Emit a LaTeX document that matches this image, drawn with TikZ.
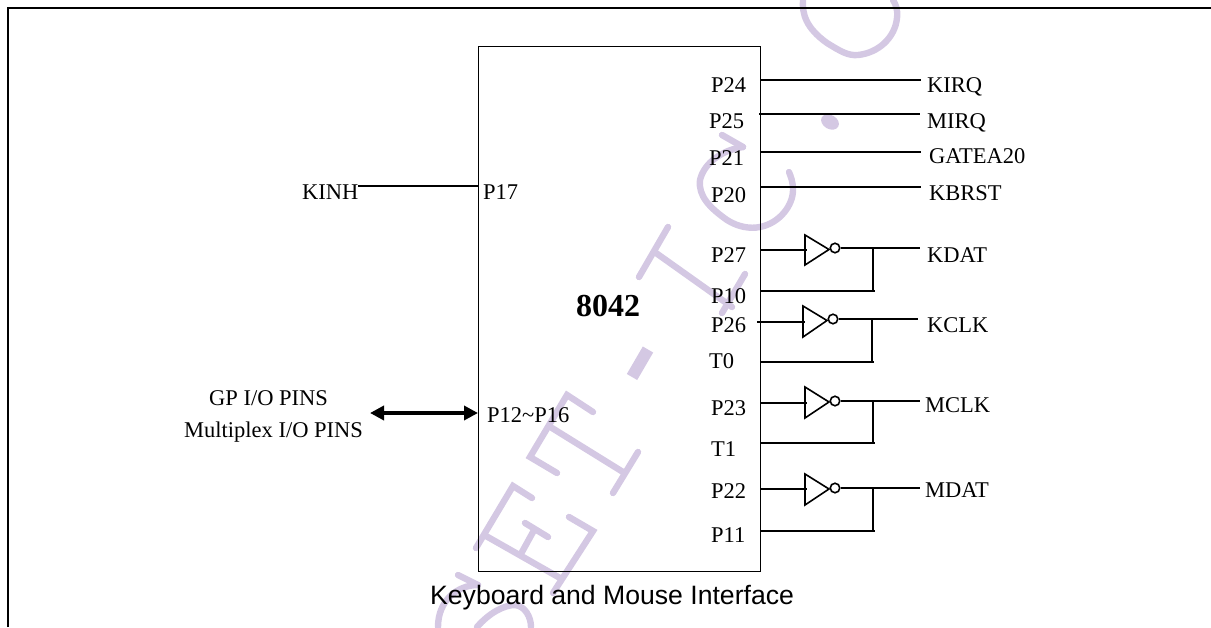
\documentclass[tikz,border=0pt]{standalone}
\usepackage{fontspec}
\setmainfont{Liberation Serif}
\newfontfamily\capfont{Liberation Sans}
\usetikzlibrary{arrows.meta}
\definecolor{wm}{HTML}{D4C8E3}
\tikzset{
  lab/.style={anchor=base west,inner sep=0pt,font=\fontsize{22.5}{24}\selectfont},
  wire/.style={line width=1.9pt,line cap=butt},
  thinwire/.style={line width=1.6pt},
  inv/.style={line width=1.6pt,line join=miter},
  bub/.style={circle,draw,line width=1.6pt,fill=white,minimum size=9.5pt,inner sep=0pt},
  mark stroke/.style={wm,line width=6.4pt,line cap=round,line join=miter},
}
% name, tri-x, tri-top, tri-bottom, apex-y, input-y, output-y, lower-y, output-end-x, input-start-x
\newcommand{\invblock}[9]{%
  \coordinate (#1tl) at (#2,#3);
  \coordinate (#1bl) at (#2,#4);
  \coordinate (#1ap) at (#2+24,#5);
  \node[bub] (#1b) at (#2+30,#7) {};
  \coordinate (#1in) at (#9,#6);
  \coordinate (#1ie) at (#2+2,#6);
  \coordinate (#1out) at (#8,#7);
  \draw[inv] (#1tl) -- (#1bl) -- (#1ap) -- cycle;
  \draw[wire] (#1in) -- (#1ie);
  \draw[wire] (#1b.east) -- (#1out);
}
\newcommand{\fbk}[4]{% name, junction x, output y, lower y
  \coordinate (#1jt) at (#2,#3);
  \coordinate (#1jb) at (#2,#4);
  \coordinate (#1ls) at (760,#4);
  \draw[wire] (#1jt) -- (#1jb);
  \draw[wire] (#1ls) -- (#2+2,#4);
}
\begin{document}
\begin{tikzpicture}[x=1pt,y=-1pt]
\useasboundingbox (0,0) rectangle (1211,627);
% watermark
\begin{scope}[mark stroke]
\draw (803,0) .. controls (802,14) and (806,28) .. (827,43) .. controls (840,51) and (848,56) .. (858,55) .. controls (878,53) and (895,38) .. (897,18) .. controls (898,10) and (896,5) .. (893,0);
\draw (722,135) -- (743,147);
\draw (743,147) .. controls (722,150) and (704,163) .. (700,180) .. controls (698,196) and (710,208) .. (727,220) .. controls (738,227) and (750,229) .. (760,227) .. controls (780,223) and (793,205) .. (793,190) .. controls (793,182) and (791,177) .. (789,172);
\draw (668,227) -- (639,277);
\draw (656,253) -- (732,307);
\draw (745,274) -- (722,313);
\draw (593,412) -- (567,395) -- (530,457) -- (557,473);
\draw (552,428) -- (623,472);
\draw (638,452) -- (613,493);
\draw (532,498) -- (513,486) -- (476,548);
\draw (486,536) -- (560,578);
\draw (525,523) -- (548,537);
\draw (533,532) -- (522,552);
\draw (569,517) -- (593,531) -- (553,593);
\draw (458,575) -- (478,585);
\draw (478,585) .. controls (458,585) and (438,600) .. (438,627);
\draw (477,627) .. controls (490,612) and (505,605) .. (515,605) .. controls (525,606) and (531,617) .. (531,627);
\end{scope}
\fill[wm,rotate around={-30:(830,122)}] (830,122) ellipse [x radius=9.5,y radius=7];
\draw[wm,line width=12pt,line cap=butt] (648,349.5) -- (632,377);
% frame
\coordinate (fb) at (8,627);
\coordinate (fc) at (8,8);
\coordinate (fr) at (1211,8);
\draw[line width=1.9pt,line join=miter] (fb) -- (fc) -- (fr);
% chip
\node[draw,line width=1.3pt,inner sep=0pt,anchor=north west,text width=282pt,minimum height=525pt] (chip) at (477.5,45.5) {};
\node[inner sep=0pt,anchor=base west,font=\fontsize{32}{34}\selectfont\bfseries] (n8042) at (576,316) {8042};
% pin labels
\node[lab] (p24) at (711,92) {P24};
\node[lab] (p25) at (709,128) {P25};
\node[lab] (p21) at (709,165.5) {P21};
\node[lab] (p20) at (711,202) {P20};
\node[lab] (p27) at (711,262) {P27};
\node[lab] (p10) at (711,303) {P10};
\node[lab] (p26) at (711,332) {P26};
\node[lab] (t0) at (709,368) {T0};
\node[lab] (p23) at (711,415) {P23};
\node[lab] (t1) at (711,456) {T1};
\node[lab] (p22) at (711,498) {P22};
\node[lab] (p11) at (711,542) {P11};
\node[lab] (p17) at (483,199) {P17};
\node[lab] (p12) at (487,422) {P12\char`\~P16};
% signal labels
\node[lab] (kirq) at (927,92) {KIRQ};
\node[lab] (mirq) at (927,128) {MIRQ};
\node[lab] (gate) at (929,163) {GATEA20};
\node[lab] (kbrst) at (929,200) {KBRST};
\node[lab] (kdat) at (927,262) {KDAT};
\node[lab] (kclk) at (927,332) {KCLK};
\node[lab] (mclk) at (925,412) {MCLK};
\node[lab] (mdat) at (925,497) {MDAT};
\node[lab] (kinh) at (302,199) {KINH};
\node[lab] (gpio) at (209,405) {GP I/O PINS};
\node[lab] (mux) at (184,437) {Multiplex I/O PINS};
\node[inner sep=0pt,anchor=base west,font=\capfont\fontsize{26.6}{28}\selectfont] (cap) at (430,604) {Keyboard and Mouse Interface};
% straight wires
\coordinate (a1) at (761,80); \coordinate (a2) at (921,80);
\coordinate (b1) at (759,114); \coordinate (b2) at (920,114);
\coordinate (c1) at (760,152); \coordinate (c2) at (921,152);
\coordinate (d1) at (760,187); \coordinate (d2) at (921,187);
\draw[wire] (a1) -- (a2);
\draw[wire] (b1) -- (b2);
\draw[thinwire] (c1) -- (c2);
\draw[thinwire] (d1) -- (d2);
\coordinate (k1) at (358,186); \coordinate (k2) at (478,186);
\draw[thinwire] (k1) -- (k2);
% bidirectional bus
\coordinate (io1) at (370,413); \coordinate (io2) at (478,413);
\draw[line width=3.6pt,{Triangle[length=14pt,width=14pt]}-{Triangle[length=14pt,width=14pt]}] (io1) -- (io2);
% inverters
\invblock{ka}{805}{235}{265}{249.5}{250}{248}{920}{760}
\fbk{ka}{873}{248}{291}
\invblock{kb}{803}{306}{337}{320.5}{322}{319}{918}{757}
\fbk{kb}{872}{319}{362}
\invblock{ma}{805}{387}{418}{402}{403}{401}{920}{760}
\fbk{ma}{873}{401}{443}
\invblock{mb}{805}{474}{505}{489}{489}{488}{920}{760}
\fbk{mb}{873}{488}{531}
\end{tikzpicture}
\end{document}
